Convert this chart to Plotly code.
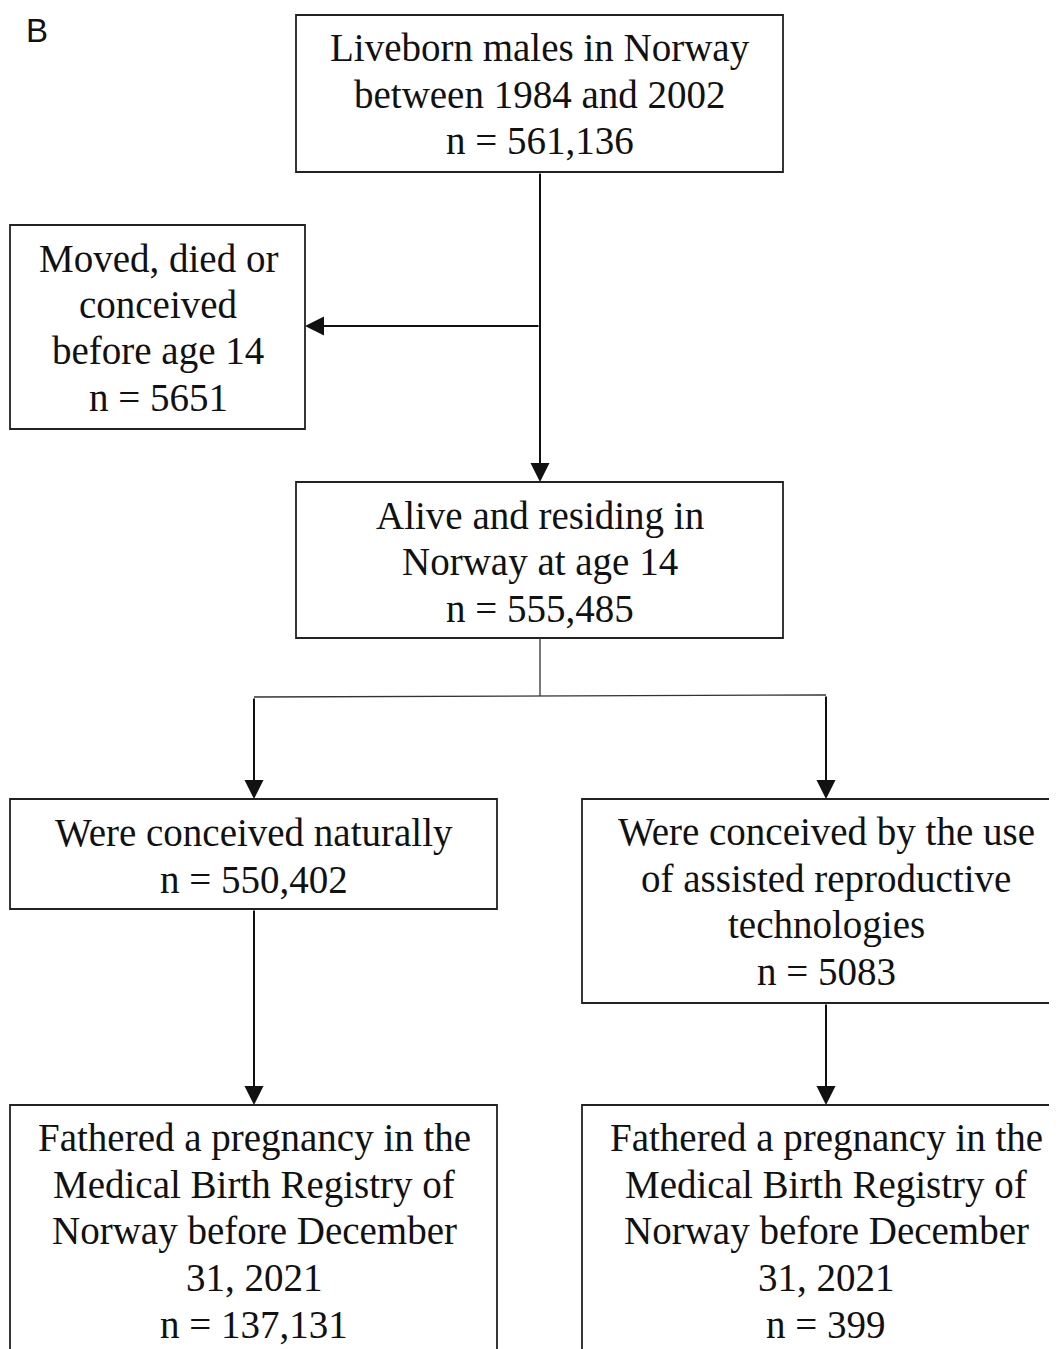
import plotly.graph_objects as go

W, H = 1057, 1349
OFF = 8  # browser body margin compensation

# Box texts (content), one list of lines per box
box_lines = [
    ["Liveborn males in Norway", "between 1984 and 2002", "n = 561,136"],
    ["Moved, died or", "conceived", "before age 14", "n = 5651"],
    ["Alive and residing in", "Norway at age 14", "n = 555,485"],
    ["Were conceived naturally", "n = 550,402"],
    ["Were conceived by the use", "of assisted reproductive", "technologies", "n = 5083"],
    ["Fathered a pregnancy in the", "Medical Birth Registry of", "Norway before December", "31, 2021", "n = 137,131"],
    ["Fathered a pregnancy in the", "Medical Birth Registry of", "Norway before December", "31, 2021", "n = 399"],
]

# Layout geometry (pixel space): x0, x1, y0, y1, text-center-x, text-center-y
box_geom = [
    (296, 783, 15, 172, 540, 94),
    (10, 305, 225, 429, 158, 328),
    (296, 783, 482, 638, 540, 562),
    (10, 497, 799, 909, 254, 856),
    (582, 1075, 799, 1003, 826, 902),
    (10, 497, 1105, 1380, 254, 1231),
    (582, 1075, 1105, 1380, 826, 1231),
]
LINE_GAP = 46.5

fig = go.Figure()
shapes = []
annotations = []
LINE = dict(color="#222222", width=1.8)
FONT = dict(family="Liberation Serif", size=39, color="#111111")

for lines, (x0, x1, y0, y1, cx, cy) in zip(box_lines, box_geom):
    shapes.append(dict(type="rect", xref="x", yref="y", x0=x0, x1=x1, y0=y0, y1=y1,
                       line=LINE, fillcolor="rgba(0,0,0,0)", layer="above"))
    n = len(lines)
    for i, t in enumerate(lines):
        ly = cy + (i - (n - 1) / 2) * LINE_GAP
        annotations.append(dict(x=cx, y=ly, xref="x", yref="y", text=t, showarrow=False,
                                font=FONT, align="center", xanchor="center", yanchor="middle"))

# plain connector lines
connectors = [
    (540, 638, 540, 696),
    (254, 697, 826, 695),
]
for x0, y0, x1, y1 in connectors:
    shapes.append(dict(type="line", xref="x", yref="y", x0=x0, y0=y0, x1=x1, y1=y1,
                       line=dict(color="#333333", width=1.3)))

# arrows: (tail x, tail y, head x, head y)
arrows = [
    (540, 172, 540, 482),
    (540, 326, 305, 326),
    (254, 697, 254, 799),
    (826, 695, 826, 799),
    (254, 909, 254, 1105),
    (826, 1003, 826, 1105),
]
for tx, ty, hx, hy in arrows:
    annotations.append(dict(x=hx, y=hy, ax=tx, ay=ty, xref="x", yref="y", axref="x", ayref="y",
                            text="", showarrow=True, arrowhead=2, arrowsize=1.9, arrowwidth=2,
                            arrowcolor="#111111", standoff=0, startstandoff=0))

annotations.append(dict(x=37, y=30, xref="x", yref="y", text="B", showarrow=False,
                        font=dict(family="Liberation Sans", size=33, color="#111111"),
                        xanchor="center", yanchor="middle"))

fig.update_layout(
    width=W, height=H, margin=dict(l=0, r=0, t=0, b=0),
    paper_bgcolor="white", plot_bgcolor="white",
    xaxis=dict(range=[OFF, W + OFF], visible=False, fixedrange=True),
    yaxis=dict(range=[H + OFF, OFF], visible=False, fixedrange=True),
    shapes=shapes, annotations=annotations, showlegend=False,
)
fig.write_html("out.html")
